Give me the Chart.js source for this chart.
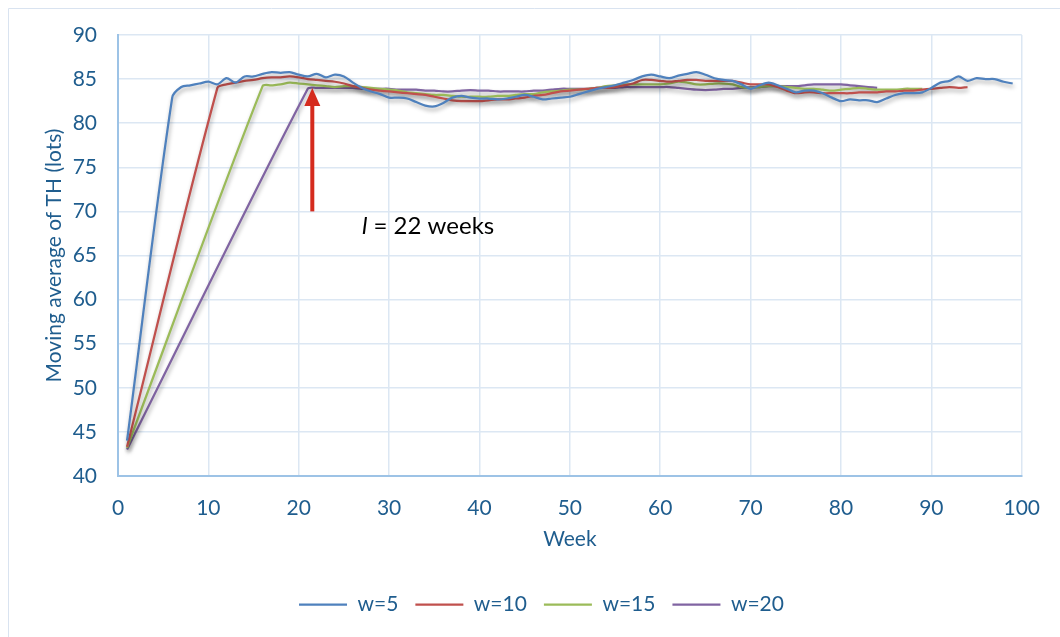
<!DOCTYPE html>
<html>
<head>
<meta charset="utf-8">
<script src="https://cdn.jsdelivr.net/npm/chart.js@4.4.1/dist/chart.umd.min.js"></script>
<style>
  html, body { margin: 0; padding: 0; background: #fff; }
  #wrap { width: 1060px; height: 637px; }
</style>
</head>
<body>
<div id="wrap"><canvas id="my-chart"></canvas></div>
<script>
// weeks and moving averages
let weeks5 = [1, 6, 7, 8, 9, 10, 11, 12, 13, 14, 15, 16, 17, 18, 19, 20, 21, 22, 23, 24, 25, 26, 27, 28, 29, 30,
  31, 32, 33, 34, 35, 36, 37, 38, 39, 40, 41, 42, 43, 44, 45, 46, 47, 48, 49, 50, 51, 52, 53, 54, 55, 56, 57, 58,
  59, 60, 61, 62, 63, 64, 65, 66, 67, 68, 69, 70, 71, 72, 73, 74, 75, 76, 77, 78, 79, 80, 81, 82, 83, 84, 85, 86,
  87, 88, 89, 90, 91, 92, 93, 94, 95, 96, 97, 98, 99];
let th5 = [44.0, 82.9, 84.1, 84.3, 84.5, 84.7, 84.4, 85.1, 84.6, 85.3, 85.3, 85.6, 85.8, 85.7, 85.8, 85.5, 85.3,
  85.6, 85.2, 85.5, 85.3, 84.6, 84.0, 83.6, 83.3, 82.9, 82.9, 82.8, 82.4, 82.0, 81.9, 82.3, 82.9, 83.1, 82.9, 82.8,
  82.8, 82.7, 82.8, 83.0, 83.2, 83.0, 82.7, 82.8, 82.9, 83.0, 83.3, 83.6, 83.9, 84.1, 84.3, 84.6, 84.9, 85.3, 85.5,
  85.3, 85.1, 85.4, 85.6, 85.8, 85.5, 85.1, 84.9, 84.8, 84.4, 83.9, 84.3, 84.6, 84.3, 83.9, 83.5, 83.7, 83.7, 83.4,
  82.9, 82.5, 82.7, 82.6, 82.6, 82.4, 82.8, 83.2, 83.4, 83.4, 83.5, 84.0, 84.6, 84.8, 85.3, 84.8, 85.1, 85.0, 85.0,
  84.7, 84.5];

let weeks10 = [1, 11, 12, 13, 14, 15, 16, 17, 18, 19, 20, 21, 22, 23, 24, 25, 26, 27, 28, 29, 30, 31, 32, 33, 34,
  35, 36, 37, 38, 39, 40, 41, 42, 43, 44, 45, 46, 47, 48, 49, 50, 51, 52, 53, 54, 55, 56, 57, 58, 59, 60, 61, 62,
  63, 64, 65, 66, 67, 68, 69, 70, 71, 72, 73, 74, 75, 76, 77, 78, 79, 80, 81, 82, 83, 84, 85, 86, 87, 88, 89, 90,
  91, 92, 93, 94];
let th10 = [43.3, 84.0, 84.4, 84.6, 84.8, 84.9, 85.1, 85.2, 85.2, 85.3, 85.2, 85.0, 84.9, 84.8, 84.7, 84.5, 84.2,
  84.0, 83.8, 83.7, 83.6, 83.5, 83.4, 83.3, 83.2, 83.0, 82.8, 82.6, 82.5, 82.5, 82.5, 82.6, 82.7, 82.7, 82.8, 82.9,
  83.1, 83.2, 83.4, 83.6, 83.7, 83.8, 83.9, 84.0, 84.0, 84.1, 84.3, 84.5, 84.9, 84.9, 84.8, 84.7, 84.8, 84.9, 84.9,
  84.8, 84.8, 84.8, 84.8, 84.6, 84.4, 84.4, 84.4, 84.1, 83.7, 83.4, 83.5, 83.5, 83.4, 83.4, 83.4, 83.4, 83.5, 83.5,
  83.5, 83.6, 83.6, 83.7, 83.7, 83.8, 83.9, 84.0, 84.1, 84.0, 84.1];

let weeks15 = [1, 16, 17, 18, 19, 20, 21, 22, 23, 24, 25, 26, 27, 28, 29, 30, 31, 32, 33, 34, 35, 36, 37, 38, 39,
  40, 41, 42, 43, 44, 45, 46, 47, 48, 49, 50, 51, 52, 53, 54, 55, 56, 57, 58, 59, 60, 61, 62, 63, 64, 65, 66, 67,
  68, 69, 70, 71, 72, 73, 74, 75, 76, 77, 78, 79, 80, 81, 82, 83, 84, 85, 86, 87, 88, 89];
let th15 = [43.2, 84.2, 84.3, 84.4, 84.6, 84.5, 84.4, 84.3, 84.2, 84.1, 84.2, 84.2, 84.1, 84.0, 83.9, 83.8, 83.7,
  83.5, 83.4, 83.3, 83.2, 83.2, 83.1, 83.0, 83.0, 83.0, 83.0, 83.1, 83.1, 83.2, 83.3, 83.3, 83.5, 83.6, 83.7, 83.8,
  83.8, 83.9, 84.0, 84.2, 84.3, 84.4, 84.4, 84.4, 84.4, 84.4, 84.5, 84.7, 84.6, 84.4, 84.4, 84.5, 84.5, 84.4, 84.1,
  84.0, 84.1, 84.2, 84.2, 84.1, 84.0, 83.9, 83.9, 83.8, 83.7, 83.8, 83.9, 84.0, 83.9, 83.8, 83.8, 83.8, 83.9, 83.9,
  83.9];

let weeks20 = [1, 21, 22, 23, 24, 25, 26, 27, 28, 29, 30, 31, 32, 33, 34, 35, 36, 37, 38, 39, 40, 41, 42, 43, 44,
  45, 46, 47, 48, 49, 50, 51, 52, 53, 54, 55, 56, 57, 58, 59, 60, 61, 62, 63, 64, 65, 66, 67, 68, 69, 70, 71, 72,
  73, 74, 75, 76, 77, 78, 79, 80, 81, 82, 83, 84];
let th20 = [43.0, 83.9, 84.0, 84.0, 84.0, 84.0, 84.0, 83.9, 83.9, 83.9, 83.9, 83.8, 83.8, 83.8, 83.7, 83.7, 83.6,
  83.6, 83.7, 83.75, 83.7, 83.7, 83.6, 83.6, 83.6, 83.6, 83.7, 83.7, 83.8, 83.9, 83.9, 83.9, 83.9, 84.0, 84.0, 84.0,
  84.1, 84.1, 84.1, 84.1, 84.1, 84.1, 84.0, 83.9, 83.8, 83.75, 83.8, 83.9, 83.9, 84.0, 84.1, 84.1, 84.2, 84.2, 84.2,
  84.2, 84.3, 84.4, 84.4, 84.4, 84.4, 84.3, 84.2, 84.1, 84.0];

let seriesNames = ["w=5", "w=10", "w=15", "w=20"];
let lineColors = ["#4f81bd", "#c0504d", "#9bbb59", "#8064a2"];

// annotation: arrow pointing at the warm-up length
let arrowWeek = 21.5;
let arrowFrom = 70;
let arrowTo = 84;
let noteWeek = 27;
let noteValue = 67.4;

let textBlue = "#1f5d8e";
let fontName = "Lato, 'Open Sans', sans-serif";

function toPoints(xs, ys) {
  return xs.map((x, i) => ({ x: x, y: ys[i] }));
}

let allWeeks = [weeks5, weeks10, weeks15, weeks20];
let allTh = [th5, th10, th15, th20];

let datasets = seriesNames.map((name, i) => ({
  label: name,
  data: toPoints(allWeeks[i], allTh[i]),
  borderColor: lineColors[i],
  backgroundColor: lineColors[i],
  borderWidth: 2.25,
  pointRadius: 0,
  tension: 0.3,
  borderJoinStyle: "round",
}));

// grey drop shadow under the lines, like the Excel original
const lineShadow = {
  id: "lineShadow",
  beforeDatasetsDraw(chart) {
    const ctx = chart.ctx;
    ctx.save();
    ctx.shadowColor = "rgba(0,0,0,0.35)";
    ctx.shadowBlur = 4;
    ctx.shadowOffsetX = 1;
    ctx.shadowOffsetY = 3;
  },
  afterDatasetsDraw(chart) {
    chart.ctx.restore();
  },
};

const frameAndNote = {
  id: "frameAndNote",
  afterLayout(chart) {
    // the legend sits a bit right of the plot centre in the original
    chart.legend.left += 30;
    chart.legend.right += 30;
  },
  beforeDraw(chart) {
    const ctx = chart.ctx;
    ctx.save();
    ctx.strokeStyle = "#d9e3f0";
    ctx.lineWidth = 1;
    ctx.beginPath();
    ctx.moveTo(8.5, 637);
    ctx.lineTo(8.5, 8.5);
    ctx.lineTo(1060, 8.5);
    ctx.stroke();
    ctx.restore();
  },
  afterDraw(chart) {
    const ctx = chart.ctx;
    const xs = chart.scales.x;
    const ys = chart.scales.y;
    const ax = xs.getPixelForValue(arrowWeek);
    const y0 = ys.getPixelForValue(arrowFrom);
    const y1 = ys.getPixelForValue(arrowTo);
    ctx.save();
    ctx.strokeStyle = "#d52b1e";
    ctx.fillStyle = "#d52b1e";
    ctx.lineWidth = 4;
    ctx.beginPath();
    ctx.moveTo(ax, y0);
    ctx.lineTo(ax, y1 + 14);
    ctx.stroke();
    ctx.beginPath();
    ctx.moveTo(ax, y1);
    ctx.lineTo(ax - 8, y1 + 18);
    ctx.lineTo(ax + 8, y1 + 18);
    ctx.closePath();
    ctx.fill();

    const tx = xs.getPixelForValue(noteWeek);
    const ty = ys.getPixelForValue(noteValue);
    ctx.fillStyle = "#000";
    ctx.textBaseline = "alphabetic";
    ctx.textAlign = "left";
    ctx.font = "italic 24px " + fontName;
    ctx.fillText("l", tx, ty);
    const w = ctx.measureText("l").width;
    ctx.font = "24px " + fontName;
    ctx.fillText(" = 22 weeks", tx + w, ty);
    ctx.restore();
  },
};

new Chart("my-chart", {
  type: "line",
  data: { datasets: datasets },
  plugins: [lineShadow, frameAndNote],
  options: {
    responsive: true,
    maintainAspectRatio: false,
    animation: false,
    layout: { padding: { top: 35, right: 37, left: 0, bottom: 12 } },
    plugins: {
      legend: {
        position: "bottom",
        labels: {
          usePointStyle: true,
          pointStyle: "line",
          pointStyleWidth: 48,
          padding: 17,
          color: textBlue,
          font: { family: fontName, size: 21 },
        },
      },
      tooltip: { enabled: false },
    },
    scales: {
      x: {
        type: "linear",
        min: 0,
        max: 100,
        afterFit(scale) { scale.height = 101; },
        ticks: { stepSize: 10, padding: 20, color: textBlue, font: { family: fontName, size: 21 } },
        grid: { color: "#dce7f3", lineWidth: 1.5, drawTicks: false },
        border: { color: "#9dc3e6", width: 2 },
        title: {
          display: true,
          text: "Week",
          color: textBlue,
          font: { family: fontName, size: 21 },
          padding: { top: 0, bottom: 25 },
        },
      },
      y: {
        min: 40,
        max: 90,
        afterFit(scale) { scale.width = 118; },
        ticks: { stepSize: 5, padding: 21, color: textBlue, font: { family: fontName, size: 21 } },
        grid: { color: "#dce7f3", lineWidth: 1.5, drawTicks: false },
        border: { color: "#9dc3e6", width: 2 },
        title: {
          display: true,
          text: "Moving average of TH (lots)",
          color: textBlue,
          font: { family: fontName, size: 21 },
          padding: { top: 42, bottom: 0 },
        },
      },
    },
  },
});
</script>
</body>
</html>
